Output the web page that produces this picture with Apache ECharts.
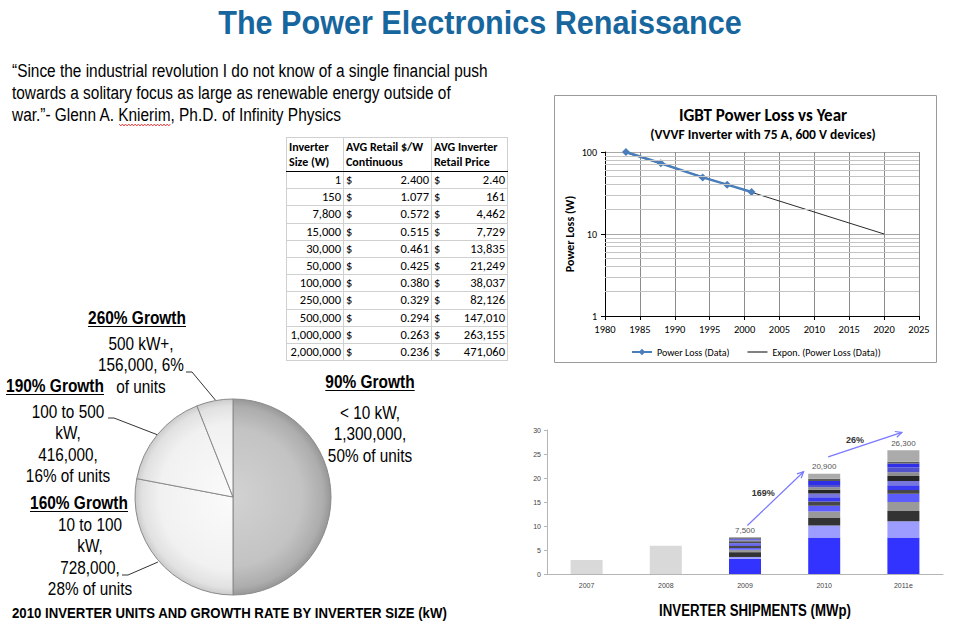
<!DOCTYPE html>
<html><head><meta charset="utf-8">
<script src="https://cdn.jsdelivr.net/npm/echarts@6/dist/echarts.min.js"></script>
<style>
html,body{margin:0;padding:0;background:#fff;}
#wrap{position:relative;width:957px;height:624px;overflow:hidden;background:#fff;}
#chart{position:absolute;left:0;top:0;width:957px;height:624px;}
#tbl{position:absolute;left:286px;top:137px;border-collapse:collapse;table-layout:fixed;font-family:Carlito,Lato,sans-serif;font-size:12.5px;color:#000;border:1px solid #000;}
#tbl td{border:1px solid #d0d0d0;padding:0 2px;height:16.2px;line-height:16px;white-space:nowrap;overflow:hidden;}
#tbl tr.h td{font-weight:bold;height:33px;line-height:15px;vertical-align:middle;border-bottom:1px solid #000;text-align:left;font-size:12px;}
#tbl td.n{text-align:right;}
.m{display:flex;justify-content:space-between;}
</style>
</head><body>
<div id="wrap"><div id="chart"></div><table id="tbl"></table></div>
<script>
// ---------- data ----------
const tableSizes = [1, 150, 7800, 15000, 30000, 50000, 100000, 250000, 500000, 1000000, 2000000];
const tablePerWatt = [2.400, 1.077, 0.572, 0.515, 0.461, 0.425, 0.380, 0.329, 0.294, 0.263, 0.236];
const tablePrice = [2.40, 161, 4462, 7729, 13835, 21249, 38037, 82126, 147010, 263155, 471060];
const tableHeaders = [['Inverter', 'Size (W)'], ['AVG Retail $/W', 'Continuous'], ['AVG Inverter', 'Retail Price']];

const lossYears = [1983, 1988, 1994, 1997.5, 2001];
const lossValues = [100, 73, 49, 40, 32.5];
const trendYears = [1983, 2020];
const trendValues = [98, 10];
const minorGridValues = [2, 3, 4, 5, 6, 7, 8, 9, 20, 30, 40, 50, 60, 70, 80, 90];

const shipYears = ['2007', '2008', '2009', '2010', '2011e'];
const shipEarly = [2.9, 5.9, 0, 0, 0];
const seg01 = [0, 0, 3.2, 7.6, 7.6];
const seg02 = [0, 0, 0.35, 2.5, 3.4];
const seg03 = [0, 0, 1.0, 1.65, 2.1];
const seg04 = [0, 0, 0.5, 1.25, 1.9];
const seg05 = [0, 0, 0.35, 1.2, 1.7];
const seg06 = [0, 0, 0.5, 0.9, 0.8];
const seg07 = [0, 0, 0.3, 0.9, 1.0];
const seg08 = [0, 0, 0.3, 0.75, 0.9];
const seg09 = [0, 0, 0.3, 0.8, 1.0];
const seg10 = [0, 0, 0.2, 0.5, 0.8];
const seg11 = [0, 0, 0.2, 0.5, 1.0];
const seg12 = [0, 0, 0.15, 0.8, 0.8];
const seg13 = [0, 0, 0.15, 0.5, 0.4];
const seg14 = [0, 0, 0.2, 1.05, 2.4];
const shipTotals = ['', '', '7,500', '20,900', '26,300'];
const growthLabels = ['169%', '26%'];

const pieUnits = [1300000, 728000, 416000, 156000];
const pieGrowth = ['90% Growth', '160% Growth', '190% Growth', '260% Growth'];
const pieLabelLines = [
  ['< 10 kW,', '1,300,000,', '50% of units'],
  ['10 to 100', 'kW,', '728,000,', '28% of units'],
  ['100 to 500', 'kW,', '416,000,', '16% of units'],
  ['500 kW+,', '156,000, 6%', 'of units']
];

// ---------- table ----------
(function () {
  const t = document.getElementById('tbl');
  let h = '<colgroup><col style="width:57px"><col style="width:88px"><col style="width:76px"></colgroup>';
  h += '<tr class="h">' + tableHeaders.map(c => '<td>' + c.join('<br>') + '</td>').join('') + '</tr>';
  for (let i = 0; i < tableSizes.length; i++) {
    const p = tablePrice[i] < 10 ? tablePrice[i].toFixed(2) : tablePrice[i].toLocaleString('en-US');
    h += '<tr><td class="n">' + tableSizes[i].toLocaleString('en-US') + '</td>' +
      '<td><div class="m"><span>$</span><span>' + tablePerWatt[i].toFixed(3) + '</span></div></td>' +
      '<td><div class="m"><span>$</span><span>' + p + '</span></div></td></tr>';
  }
  t.innerHTML = h;
})();

// ---------- chart ----------
const SANS = "'Liberation Sans',Arial,sans-serif";
const CAL = "Carlito,Lato,'Open Sans',sans-serif";
const PCX = 233, PCY = 497, PR = 98;

const mc = document.createElement('canvas').getContext('2d');
function textW(t, font) { mc.font = font; return mc.measureText(t).width; }

const chart = echarts.init(document.getElementById('chart'), null, { renderer: 'svg' });

const segColors = ['#3333ff', '#9d9dff', '#333333', '#999999', '#5c5cff', '#474747', '#3a3af2',
  '#7676dc', '#262626', '#8e8e8e', '#5252cc', '#2f2fe8', '#5a5a5a', '#ababab'];
const segs = [seg01, seg02, seg03, seg04, seg05, seg06, seg07, seg08, seg09, seg10, seg11, seg12, seg13, seg14];

const barSeries = [{
  type: 'bar', name: 'early', stack: 'ship', xAxisIndex: 1, yAxisIndex: 1, barWidth: 32,
  data: shipEarly, itemStyle: { color: '#d9d9d9' }, silent: true
}].concat(segs.map((s, i) => ({
  type: 'bar', name: 's' + i, stack: 'ship', xAxisIndex: 1, yAxisIndex: 1, barWidth: 32,
  data: s, itemStyle: { color: segColors[i] }, silent: true,
  label: i === segs.length - 1 ? {
    show: true, position: 'top', distance: 3, fontSize: 8, color: '#555', fontFamily: SANS,
    formatter: p => shipTotals[p.dataIndex]
  } : { show: false }
})));

function radial(stops) {
  return { type: 'radial', x: PCX, y: PCY, r: PR, global: true, colorStops: stops };
}
const darkStops = [{ offset: 0, color: '#d2d2d2' }, { offset: 0.7, color: '#c3c3c3' }, { offset: 0.92, color: '#adadad' }, { offset: 1, color: '#979797' }];
const lightStops = [{ offset: 0, color: '#fbfbfb' }, { offset: 0.75, color: '#f1f1f1' }, { offset: 0.93, color: '#e1e1e1' }, { offset: 1, color: '#cbcbcb' }];

const option = {
  animation: false,
  backgroundColor: '#fff',
  grid: [
    { left: 605, top: 152, width: 314, height: 164 },
    { left: 547, top: 430, width: 396, height: 144 }
  ],
  xAxis: [
    {
      gridIndex: 0, type: 'value', min: 1980, max: 2025, interval: 5,
      axisLine: { lineStyle: { color: '#000' } },
      axisTick: { show: true, length: 4, lineStyle: { color: '#000' } },
      axisLabel: { fontSize: 10.5, color: '#000', fontFamily: CAL, margin: 8, formatter: v => String(v) },
      splitLine: { show: true, lineStyle: { color: '#8c8c8c' } }
    },
    {
      gridIndex: 1, type: 'category', data: shipYears,
      axisLine: { lineStyle: { color: '#b5b5b5' } },
      axisTick: { show: false },
      axisLabel: { fontSize: 7, color: '#444', margin: 8, fontFamily: SANS }
    }
  ],
  yAxis: [
    {
      gridIndex: 0, type: 'log', logBase: 10, min: 1, max: 100,
      axisLine: { show: true, lineStyle: { color: '#000' } },
      axisTick: { show: true, length: 4, lineStyle: { color: '#000' } },
      axisLabel: { fontSize: 10, color: '#000', fontFamily: CAL, margin: 8 },
      splitLine: { show: true, lineStyle: { color: '#a8a8a8' } },
      name: 'Power Loss (W)', nameLocation: 'middle', nameGap: 29, nameRotate: 90,
      nameTextStyle: { fontSize: 12, fontWeight: 'bold', fontFamily: CAL, color: '#000' }
    },
    {
      gridIndex: 1, type: 'value', min: 0, max: 30, interval: 5,
      axisLine: { show: true, lineStyle: { color: '#b5b5b5' } },
      axisTick: { show: true, length: 3, lineStyle: { color: '#b5b5b5' } },
      axisLabel: { fontSize: 7, color: '#444', margin: 6, fontFamily: SANS },
      splitLine: { show: false }
    }
  ],
  legend: {
    left: 626, top: 342, itemWidth: 20, itemHeight: 8, itemGap: 18,
    textStyle: { fontSize: 10, fontFamily: CAL, color: '#000' },
    data: [
      { name: 'Power Loss (Data)' },
      { name: 'Expon. (Power Loss (Data))', icon: 'path://M0,0L20,0L20,2L0,2Z',
        itemStyle: { color: '#808080' }, lineStyle: { color: '#808080', width: 2.5 } }
    ]
  },
  series: [
    {
      type: 'line', name: 'Expon. (Power Loss (Data))', xAxisIndex: 0, yAxisIndex: 0, z: 2,
      data: trendYears.map((y, i) => [y, trendValues[i]]),
      symbol: 'none', lineStyle: { color: '#2a2a2a', width: 1 }, itemStyle: { color: '#808080' },
      markLine: {
        silent: true, symbol: 'none', label: { show: false },
        lineStyle: { color: '#c4c4c4', width: 1, type: 'solid' },
        data: minorGridValues.map(v => ({ yAxis: v }))
      }
    },
    {
      type: 'line', name: 'Power Loss (Data)', xAxisIndex: 0, yAxisIndex: 0, z: 3,
      data: lossYears.map((y, i) => [y, lossValues[i]]),
      symbol: 'diamond', symbolSize: 8,
      lineStyle: { color: '#4a7ebb', width: 2.5 }, itemStyle: { color: '#4a7ebb' }
    },
    {
      type: 'pie', center: [PCX, PCY], radius: PR, startAngle: 90, clockwise: true,
      label: { show: false }, labelLine: { show: false }, silent: true,
      itemStyle: { borderColor: '#8a8a8a', borderWidth: 1 },
      data: pieUnits.map((v, i) => ({ value: v, name: pieGrowth[i], itemStyle: { color: radial(i === 0 ? darkStops : lightStops) } }))
    }
  ].concat(barSeries)
};
chart.setOption(option);

// ---------- annotations ----------
const G = [];
function ntext(text, x, y, font, sx, align, vAlign, extra) {
  return { type: 'text', x: x, y: y, scaleX: sx, style: Object.assign({ text: text, font: font, fill: '#000', align: align || 'left', verticalAlign: vAlign || 'middle' }, extra || {}) };
}
// slide title
const TF = 'bold 34px ' + SANS, TT = 'The Power Electronics Renaissance';
const sT = 524 / textW(TT, TF);
G.push(ntext(TT, 480, 22, TF, sT, 'center', 'middle', { fill: '#17669e' }));
// quote
const QF = '18px ' + SANS;
const quoteLines = ['\u201cSince the industrial revolution I do not know of a single financial push',
  'towards a solitary focus as large as renewable energy outside of',
  'war.\u201d- Glenn A. Knierim, Ph.D. of Infinity Physics'];
const sQ = 476 / textW(quoteLines[0], QF);
G.push(ntext(quoteLines.join('\n'), 12, 60, QF, sQ, 'left', 'top', { lineHeight: 22 }));
// wavy spell-check underline under the surname
(function () {
  const x0 = 12 + sQ * textW('war.\u201d- Glenn A. ', QF), x1 = x0 + sQ * textW('Knierim', QF);
  const pts = []; for (let x = x0, k = 0; x <= x1; x += 1.6, k++) pts.push([x, 125 + (k % 2 ? 1 : -1)]);
  G.push({ type: 'polyline', shape: { points: pts }, style: { stroke: '#e02020', lineWidth: 0.8, fill: null } });
})();
// IGBT box and titles
G.push({ type: 'rect', shape: { x: 554.5, y: 95.5, width: 382, height: 267 }, style: { fill: null, stroke: '#9a9a9a', lineWidth: 1 }, z: -1 });
G.push({ type: 'text', x: 763, y: 115, style: { text: 'IGBT Power Loss vs Year', font: 'bold 17px ' + CAL, fill: '#000', align: 'center', verticalAlign: 'middle' } });
G.push({ type: 'text', x: 763, y: 134, style: { text: '(VVVF Inverter with 75 A, 600 V devices)', font: 'bold 13.5px ' + CAL, fill: '#000', align: 'center', verticalAlign: 'middle' } });
// bottom titles
const ST = 'INVERTER SHIPMENTS (MWp)', SF = 'bold 17px ' + SANS;
G.push(ntext(ST, 755, 610, SF, 192 / textW(ST, SF), 'center', 'middle'));
const PT = '2010 INVERTER UNITS AND GROWTH RATE BY INVERTER SIZE (kW)', PF = 'bold 15px ' + SANS;
G.push(ntext(PT, 12, 613, PF, 436 / textW(PT, PF), 'left', 'middle'));

// pie labels
const pieHeadPos = [[370, 382], [79, 503], [55, 386], [137, 318]];
const pieBodyPos = [[370, 412], [90, 524], [68, 411], [141, 343]];
const pieLeaders = [null, [[122, 575], [128, 575], [158, 562]], [[108, 418], [114, 418], [158, 435]], [[186, 372], [192, 372], [217, 402]]];
const HF = 'bold 18px ' + SANS, BF = '19px ' + SANS;
const sH = 98 / textW('260% Growth', HF), sB = 86 / textW('156,000, 6%', BF);
pieGrowth.forEach((g, i) => {
  const [hx, hy] = pieHeadPos[i];
  G.push(ntext(g, hx, hy, HF, sH, 'center', 'middle'));
  const w = textW(g, HF) * sH;
  G.push({ type: 'line', shape: { x1: hx - w / 2, y1: hy + 8.5, x2: hx + w / 2, y2: hy + 8.5 }, style: { stroke: '#000', lineWidth: 1 } });
  const [bx, by] = pieBodyPos[i];
  G.push(ntext(pieLabelLines[i].join('\n'), bx, by - 10.75, BF, sB, 'center', 'top', { lineHeight: 21.5 }));
  if (pieLeaders[i]) G.push({ type: 'polyline', shape: { points: pieLeaders[i] }, style: { stroke: '#333', lineWidth: 1, fill: null } });
});

// growth arrows on shipment chart (positions in data space)
const arrowSpecs = [
  { from: [2.03, 10.1], to: [2.74, 21.3], at: [2.23, 16.8] },
  { from: [3.05, 24.4], to: [3.98, 29.5], at: [3.39, 27.9] }
];
function toPx(pt) {
  const i0 = Math.floor(pt[0]), f = pt[0] - i0;
  const a = chart.convertToPixel({ xAxisIndex: 1, yAxisIndex: 1 }, [i0, pt[1]]);
  const b = chart.convertToPixel({ xAxisIndex: 1, yAxisIndex: 1 }, [i0 + 1, pt[1]]);
  return [a[0] + (b[0] - a[0]) * f, a[1]];
}
arrowSpecs.forEach((s, k) => {
  const p0 = toPx(s.from), p1 = toPx(s.to);
  const ang = Math.atan2(p1[1] - p0[1], p1[0] - p0[0]);
  const L = 7, sp = 0.45;
  G.push({ type: 'line', shape: { x1: p0[0], y1: p0[1], x2: p1[0], y2: p1[1] }, style: { stroke: '#7878ff', lineWidth: 1.2 } });
  G.push({ type: 'polyline', shape: { points: [
    [p1[0] - L * Math.cos(ang - sp), p1[1] - L * Math.sin(ang - sp)], p1,
    [p1[0] - L * Math.cos(ang + sp), p1[1] - L * Math.sin(ang + sp)]] }, style: { stroke: '#7878ff', lineWidth: 1.2, fill: null } });
  const t = toPx(s.at);
  G.push({ type: 'text', x: t[0], y: t[1], style: { text: growthLabels[k], font: 'bold 9px ' + SANS, fill: '#333', align: 'center', verticalAlign: 'middle' } });
});

chart.setOption({ graphic: G });
</script>
</body></html>
